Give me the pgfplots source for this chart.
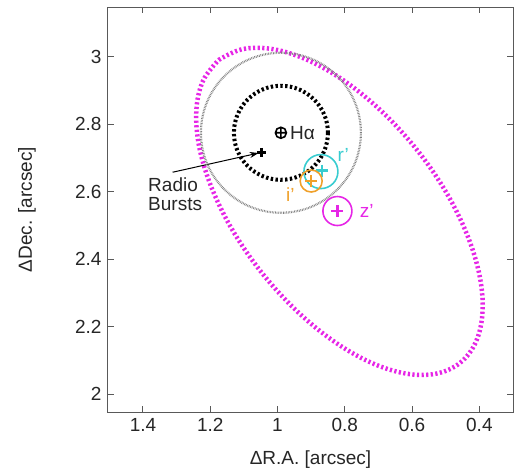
\documentclass[border=0pt]{standalone}
\usepackage{fontspec}
\setmainfont{Liberation Sans}
\usepackage{pgfplots}
\pgfplotsset{compat=1.18}
\usetikzlibrary{arrows.meta}
\definecolor{mag}{HTML}{E626E6}
\definecolor{cyn}{HTML}{38CCD0}
\definecolor{org}{HTML}{EFA02A}
\begin{document}
\begin{tikzpicture}
\begin{axis}[
  name=ax,
  scale only axis, width=405pt, height=405pt,
  x dir=reverse,
  xmin=0.3, xmax=1.504, ymin=1.947, ymax=3.148,
  xtick={0.4,0.6,0.8,1,1.2,1.4},
  ytick={2,2.2,2.4,2.6,2.8,3},
  tick align=inside, major tick length=6pt,
  /pgf/number format/assume math mode=true,
  ticklabel style={font=\fontsize{19}{21}\selectfont, text=black!85},
  xticklabel style={yshift=-3pt},
  yticklabel style={xshift=-3pt},
  axis line style={black!65, line width=1pt},
  tick style={black!65, line width=1pt},
  xlabel={ΔR.A. [arcsec]},
  ylabel={ΔDec. [arcsec]},
  label style={font=\fontsize{19}{21}\selectfont, text=black!85},
  xlabel style={at={(axis description cs:0.5,-0.118)}, anchor=center},
  ylabel style={at={(axis description cs:-0.2,0.5)}, anchor=center, rotate=0},
  clip=false,
]
% magenta z' ellipse
\addplot[mag, line width=4.5pt, dash pattern=on 2.2pt off 2.4pt, smooth, tension=0.6] table {
x y
1.1748 2.9911
1.1032 3.0233
1.0119 3.0227
0.9073 2.9894
0.7966 2.9255
0.6871 2.8354
0.5864 2.7255
0.5013 2.6030
0.4378 2.4763
0.3999 2.3542
0.3905 2.2449
0.4100 2.1557
0.4572 2.0929
0.5288 2.0607
0.6201 2.0613
0.7247 2.0946
0.8354 2.1585
0.9449 2.2486
1.0456 2.3585
1.1307 2.4810
1.1942 2.6077
1.2321 2.7298
1.2415 2.8391
1.2220 2.9283
1.1748 2.9911
};
% gray circle
\addplot[only marks, mark=o, mark size=80pt, mark options={black!50, line width=2.2pt, dash pattern=on 0.7pt off 0.9pt}] coordinates {(0.99,2.775)};
% black dotted circle
\addplot[only marks, mark=o, mark size=47pt, mark options={black, line width=4pt, dash pattern=on 2.4pt off 2.4pt}] coordinates {(0.99,2.775)};
% H alpha
\addplot[only marks, mark=oplus, mark size=5.5pt, mark options={black, line width=1.6pt}] coordinates {(0.99,2.775)};
% r'
\addplot[only marks, mark=o, mark size=17pt, mark options={cyn, line width=1.6pt}] coordinates {(0.871,2.660)};
\addplot[only marks, mark=+, mark size=6pt, mark options={cyn, line width=2.2pt}] coordinates {(0.868,2.663)};
% i'
\addplot[only marks, mark=o, mark size=11pt, mark options={org, line width=1.6pt}] coordinates {(0.900,2.632)};
\addplot[only marks, mark=+, mark size=6pt, mark options={org, line width=2.2pt}] coordinates {(0.900,2.632)};
% z'
\addplot[only marks, mark=o, mark size=14.5pt, mark options={mag, line width=1.6pt}] coordinates {(0.822,2.543)};
\addplot[only marks, mark=+, mark size=6pt, mark options={mag, line width=2.2pt}] coordinates {(0.822,2.543)};
% radio bursts
\addplot[black, line width=1pt, -{Stealth[length=9pt,width=6pt]}] coordinates {(1.312,2.658) (1.056,2.715)};
\addplot[only marks, mark=+, mark size=4.5pt, mark options={black, line width=3pt}] coordinates {(1.048,2.717)};
% labels
\node[anchor=west, font=\fontsize{19}{21}\selectfont, text=black!85, inner sep=0pt] at (axis cs:0.963,2.775) {Hα};
\node[anchor=west, font=\fontsize{19}{21}\selectfont, text=black!85, inner sep=0pt, align=left] at (axis cs:1.385,2.592) {Radio\\[-2pt]Bursts};
\node[font=\fontsize{19}{21}\selectfont, text=cyn, inner sep=0pt] at (axis cs:0.805,2.71) {r'};
\node[font=\fontsize{19}{21}\selectfont, text=org, inner sep=0pt] at (axis cs:0.962,2.592) {i'};
\node[font=\fontsize{19}{21}\selectfont, text=mag, inner sep=0pt] at (axis cs:0.735,2.543) {z'};
\end{axis}
\path ([shift={(-108pt,-60pt)}]ax.south west) rectangle ([shift={(5pt,7pt)}]ax.north east);
\end{tikzpicture}
\end{document}
